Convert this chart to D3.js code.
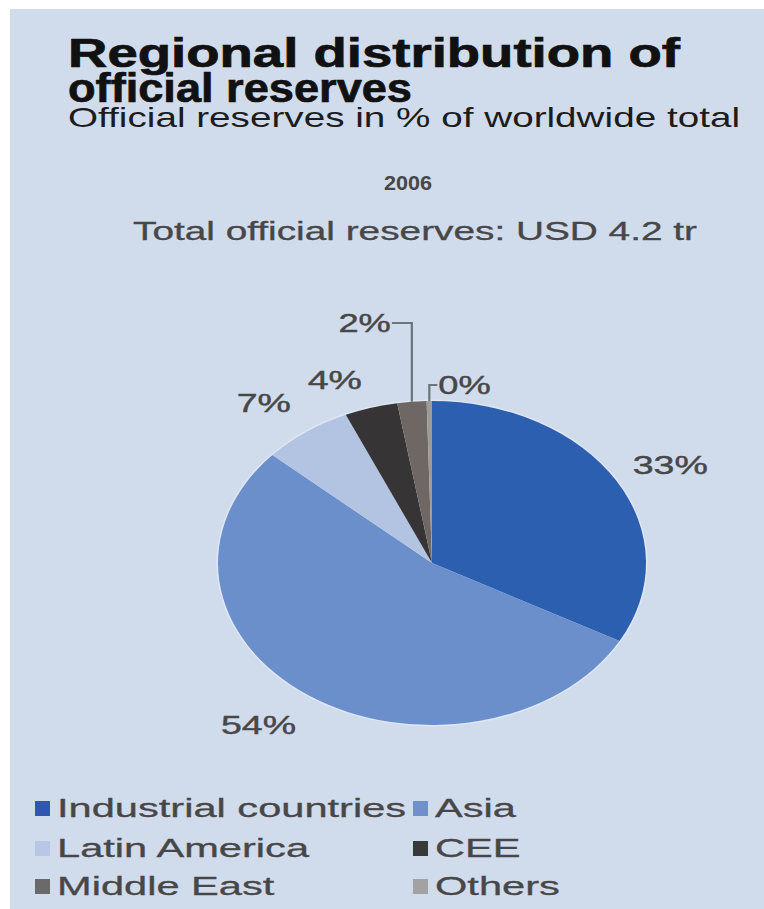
<!DOCTYPE html>
<html>
<head>
<meta charset="utf-8">
<script src="https://cdn.jsdelivr.net/npm/d3@7/dist/d3.min.js"></script>
<style>
  html, body { margin: 0; padding: 0; background: #ffffff; }
  svg { display: block; }
</style>
</head>
<body>
<svg id="chart" width="764" height="909"></svg>
<script>
// ---- data -------------------------------------------------------------
const categories  = ["Industrial countries", "Asia", "Latin America", "CEE", "Middle East", "Others"];
const shares      = [33.0, 53.6, 6.8, 4.0, 2.2, 0.4];   // % of worldwide official reserves, 2006
const legendOrder = [["Industrial countries", "Asia"], ["Latin America", "CEE"], ["Middle East", "Others"]];
const titleLines  = ["Regional distribution of", "official reserves"];
const subtitle    = "Official reserves in % of worldwide total";
const yearLabel   = "2006";
const totalLabel  = "Total official reserves: USD 4.2 tr";

// ---- styling ----------------------------------------------------------
const sliceColors  = ["#2d5fb1", "#6a8fcb", "#b3c4e3", "#363434", "#6f6763", "#9f9b9a"];
const legendColors = ["#2f57b0", "#6f90cb", "#b8c7e5", "#393939", "#6a6a6a", "#a2a2a2"];
const panelColor   = "#d0dbec";
const textGray     = "#474747";
const fontFamily   = "'Liberation Sans', Arial, Helvetica, sans-serif";

const W = 764, H = 909;
const svg = d3.select("#chart");

// background panel (thin white margin on the left and top)
svg.append("rect").attr("x", 10).attr("y", 9).attr("width", W - 10).attr("height", H - 9)
   .attr("fill", panelColor);

// helper: text horizontally stretched to a given width (or by a factor)
function stretchedText(parent, str, x, y, opts) {
  const t = parent.append("text")
    .attr("x", x).attr("y", y)
    .attr("font-family", fontFamily)
    .attr("font-size", opts.size)
    .attr("font-weight", opts.weight || "normal")
    .attr("fill", opts.fill || textGray)
    .attr("text-anchor", opts.anchor || "start")
    .text(str);
  if (opts.strokeW) t.attr("stroke", opts.fill || textGray).attr("stroke-width", opts.strokeW);
  const natural = t.node().getComputedTextLength();
  const target = opts.width != null ? opts.width : natural * (opts.stretch || 1);
  t.attr("textLength", target).attr("lengthAdjust", "spacingAndGlyphs");
  return t;
}

// ---- headings ----------------------------------------------------------
stretchedText(svg, titleLines[0], 68, 67, { size: 40, weight: "bold", fill: "#111", width: 612, strokeW: 0.7 });
stretchedText(svg, titleLines[1], 68, 102, { size: 40, weight: "bold", fill: "#111", width: 344, strokeW: 0.7 });
stretchedText(svg, subtitle, 68, 127, { size: 28, fill: "#1c1c1c", width: 672 });
stretchedText(svg, yearLabel, 408, 190, { size: 21, weight: "bold", fill: textGray, anchor: "middle", width: 48 });
stretchedText(svg, totalLabel, 415, 240, { size: 25, fill: textGray, anchor: "middle", width: 564, strokeW: 0.3 });

// ---- pie ---------------------------------------------------------------
const cx = 432, cy = 563, ry = 162, rx = 214;   // the pie is drawn as a horizontally stretched circle

const pie = d3.pie().sort(null).value(d => d.value);
const arcs = pie(categories.map((c, i) => ({ name: c, value: shares[i], color: sliceColors[i] })));
const arc = d3.arc().innerRadius(0).outerRadius(ry);

svg.append("ellipse").attr("cx", cx).attr("cy", cy).attr("rx", rx + 1.5).attr("ry", ry + 1.5)
   .attr("fill", "#dfe7f4");

const pieG = svg.append("g").attr("transform", `translate(${cx},${cy}) scale(${rx / ry},1)`);
pieG.selectAll("path").data(arcs).join("path")
  .attr("d", arc)
  .attr("fill", d => d.data.color);

// point on the ellipse at angle a (clockwise from 12 o'clock), k = radial factor
const ellipsePoint = (a, k) => [cx + k * rx * Math.sin(a), cy - k * ry * Math.cos(a)];
const midAngle = d => (d.startAngle + d.endAngle) / 2;
const pct = v => `${Math.round(v)}%`;

// label placement: ring labels sit outside the pie; small slices use elbow leaders
const labelLayout = [
  { kind: "ring", k: 1.25, dx: 8,   dy: 5 },
  { kind: "ring", k: 1.25, dx: -19, dy: -3 },
  { kind: "ring", k: 1.25, dx: -11, dy: 4 },
  { kind: "ring", k: 1.25, dx: -21, dy: 11 },
  { kind: "leader", elbowY: 323, run: -20 },
  { kind: "leader", elbowY: 385, run: 8 }
];

const labelG = svg.append("g");
arcs.forEach((d, i) => {
  const L = labelLayout[i];
  const a = midAngle(d);
  const txt = pct(d.data.value);
  if (L.kind === "ring") {
    const [px, py] = ellipsePoint(a, L.k);
    stretchedText(labelG, txt, px + L.dx, py + L.dy + 9, { size: 25, anchor: "middle", stretch: 1.5, strokeW: 0.4 });
  } else {
    const [px, py] = ellipsePoint(a, 1);
    const ex = px + L.run;
    labelG.append("path")
      .attr("d", `M${px},${py} L${px},${L.elbowY} L${ex},${L.elbowY}`)
      .attr("fill", "none").attr("stroke", "#6e747c").attr("stroke-width", 2.2);
    const anchor = L.run < 0 ? "end" : "start";
    const tx = L.run < 0 ? ex - 1 : ex + 1;
    stretchedText(labelG, txt, tx, L.elbowY + 9, { size: 25, anchor, stretch: 1.45, strokeW: 0.4 });
  }
});

// ---- legend -------------------------------------------------------------
const legendCols = [35, 413];
const legendRows = [817, 857, 895];
const legendG = svg.append("g");
legendOrder.forEach((row, r) => {
  row.forEach((name, c) => {
    const i = categories.indexOf(name);
    const x = legendCols[c], y = legendRows[r];
    legendG.append("rect")
      .attr("x", x).attr("y", y - 16).attr("width", 15).attr("height", 15)
      .attr("fill", legendColors[i]);
    stretchedText(legendG, name, x + 22, y, { size: 26, stretch: 1.6, strokeW: 0.3 });
  });
});
</script>
</body>
</html>
